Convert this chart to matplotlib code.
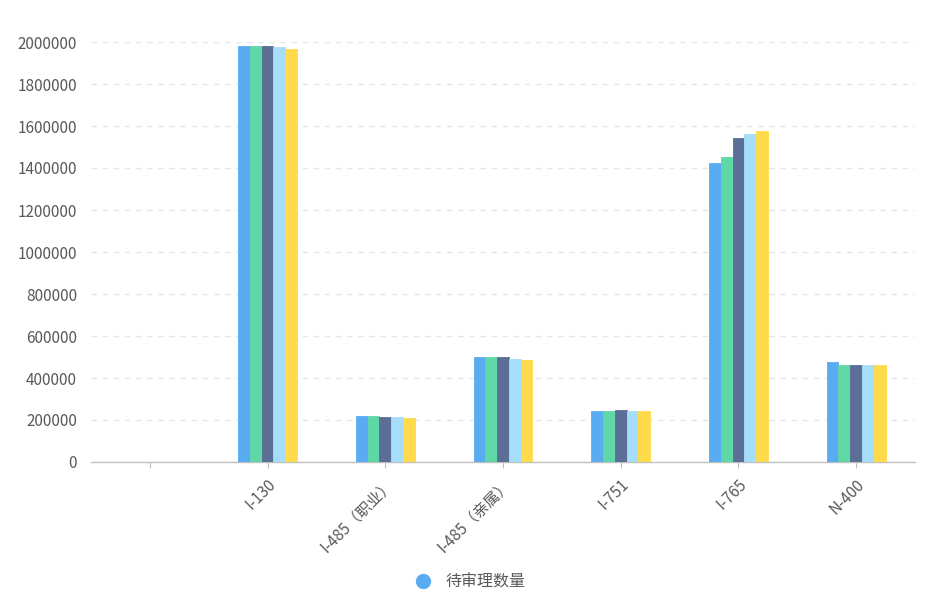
import matplotlib
matplotlib.use("Agg")
import matplotlib.pyplot as plt
import numpy as np
from matplotlib.lines import Line2D

plt.rcParams['font.family'] = ['Noto Sans CJK SC', 'DejaVu Sans']

categories = ["", "I-130", "I-485（职业）", "I-485（亲属）", "I-751", "I-765", "N-400"]
series_1 = [1500, 1981000, 220500, 501400, 244000, 1425000, 477600]
series_2 = [1500, 1980000, 217600, 498600, 244000, 1454000, 463300]
series_3 = [1500, 1981000, 214000, 501400, 249000, 1544000, 463300]
series_4 = [1500, 1976000, 212000, 492000, 244000, 1562000, 463300]
series_5 = [1500, 1968000, 209500, 485700, 244000, 1575000, 463300]
series = [series_1, series_2, series_3, series_4, series_5]
colors = ["#5AACF2", "#5FD7A7", "#5A6E96", "#A6DDF8", "#FFDB4C"]
legend_label = "待审理数量"
yticks = [0, 200000, 400000, 600000, 800000, 1000000, 1200000, 1400000, 1600000, 1800000, 2000000]

fig = plt.figure(figsize=(9.28, 6.05), dpi=100)
ax = fig.add_axes([91/928, 1-462/605, (915-91)/928, (462-42)/605])

x = np.arange(len(categories))
w = 0.1
for i, (vals, c) in enumerate(zip(series, colors)):
    ax.bar(x + (i - 2) * w, vals, width=w, color=c, edgecolor=c, linewidth=0.6, zorder=3)

ax.set_xlim(-0.5, len(categories) - 0.5)
ax.set_ylim(0, 2000000)
ax.set_yticks(yticks)
ax.set_yticklabels([str(v) for v in yticks], color="#595959", fontsize=11)
for v in yticks[1:]:
    ax.axhline(v, color="#e6e6e6", linestyle=(0, (4, 4)), linewidth=1, zorder=1)

ax.set_xticks(x)
ax.set_xticklabels(categories, rotation=45, ha="right", va="top", rotation_mode="anchor",
                   color="#595959", fontsize=11)
ax.tick_params(axis='x', length=4, color="#bfbfbf", pad=6)
ax.tick_params(axis='y', length=0, pad=10)

for s in ["top", "right", "left"]:
    ax.spines[s].set_visible(False)
ax.spines["bottom"].set_color("#bfbfbf")
ax.spines["bottom"].set_linewidth(1)

handle = Line2D([], [], marker='o', linestyle='none', markersize=10,
                markerfacecolor=colors[0], markeredgecolor=colors[0])
fig.legend([handle], [legend_label], loc="center", bbox_to_anchor=(466/928, 1-582/605),
           frameon=False, fontsize=11.5, labelcolor="#595959", handletextpad=0.4)

fig.savefig("out.png", dpi=100)
